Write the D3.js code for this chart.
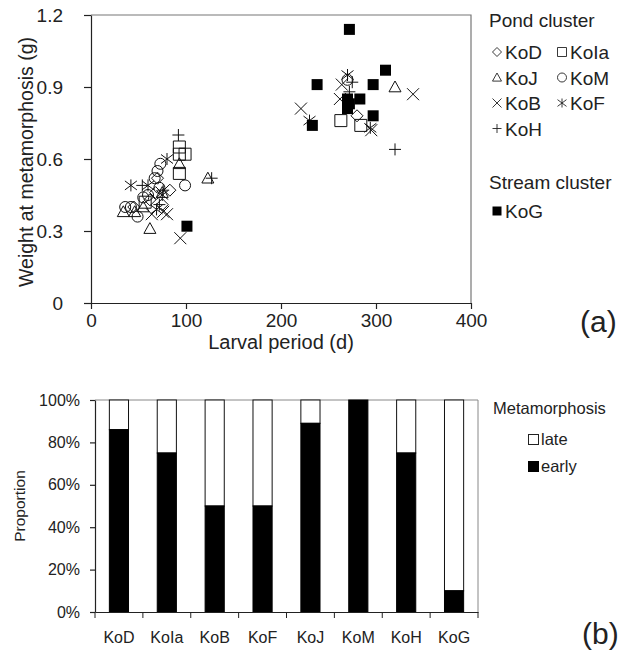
<!DOCTYPE html>
<html>
<head>
<meta charset="utf-8">
<script src="https://cdn.jsdelivr.net/npm/d3@7"></script>
<style>
  body { margin: 0; background: #fff; }
  svg { font-family: "Liberation Sans", Arial, sans-serif; }
</style>
</head>
<body>
<script>
// ---- scatter data: [larval period (d), weight (g)] per site ----
const koD  = [[83,0.47],[62,0.43],[75,0.41],[45,0.40],[70,0.52],[280,0.78],[68,0.46]];
const koIa = [[93,0.65],[93,0.62],[99,0.62],[93,0.54],[263,0.76],[284,0.74],[57,0.42]];
const koJ  = [[93,0.58],[123,0.52],[34,0.38],[62,0.31],[46,0.38],[320,0.90],[55,0.40],[75,0.46]];
const koM  = [[99,0.49],[73,0.58],[70,0.55],[67,0.52],[36,0.40],[42,0.40],[49,0.36],[55,0.44],[60,0.45],[72,0.48],[270,0.93]];
const koB  = [[94,0.27],[76,0.38],[64,0.37],[221,0.81],[264,0.91],[262,0.85],[295,0.72],[339,0.87],[80,0.37]];
const koF  = [[42,0.49],[69,0.39],[80,0.60],[60,0.49],[230,0.76],[270,0.95],[294,0.73],[75,0.45]];
const koH  = [[92,0.70],[54,0.49],[127,0.52],[76,0.47],[275,0.92],[272,0.88],[320,0.64],[72,0.41]];
const koG  = [[272,1.14],[238,0.91],[297,0.91],[310,0.97],[233,0.74],[270,0.85],[283,0.85],[270,0.81],[297,0.78],[272,0.83],[101,0.32]];

const pondSites  = ['KoD','KoIa','KoJ','KoM','KoB','KoF','KoH'];
const pondShapes = ['diamond','square','triangle','circle','cross','asterisk','plus'];
const pondData   = [koD, koIa, koJ, koM, koB, koF, koH];

const xTicks = [0, 100, 200, 300, 400];
const yTicks = [0, 0.3, 0.6, 0.9, 1.2];

// ---- bar data ----
const barSites   = ['KoD','KoIa','KoB','KoF','KoJ','KoM','KoH','KoG'];
const earlyShare = [0.86, 0.75, 0.50, 0.50, 0.89, 1.00, 0.75, 0.10];
const pctTicks   = [0, 0.2, 0.4, 0.6, 0.8, 1];

const svg = d3.select('body').append('svg')
  .attr('width', 629).attr('height', 651);

// symbol path, centred on 0,0, s = half size
function symbol(type, s) {
  switch (type) {
    case 'diamond':  return `M0,${-s}L${s},0L0,${s}L${-s},0Z`;
    case 'square':   return `M${-s},${-s}h${2*s}v${2*s}h${-2*s}Z`;
    case 'triangle': return `M0,${-s}L${s},${s*0.8}L${-s},${s*0.8}Z`;
    case 'circle':   return `M${s},0A${s},${s} 0 1,1 ${-s},0A${s},${s} 0 1,1 ${s},0Z`;
    case 'cross':    return `M${-s},${-s}L${s},${s}M${s},${-s}L${-s},${s}`;
    case 'asterisk': return `M${-s},${-s*0.75}L${s},${s*0.75}M${s},${-s*0.75}L${-s},${s*0.75}M0,${-s}V${s}`;
    case 'plus':     return `M${-s},0H${s}M0,${-s}V${s}`;
  }
}

// ================= (a) scatter =================
const x = d3.scaleLinear().domain([0, 400]).range([91, 471]);
const y = d3.scaleLinear().domain([0, 1.2]).range([303, 15]);

// frame
svg.append('path')
  .attr('d', `M${x(0)},${y(1.2)}H${x(400)}V${y(0)}`)
  .attr('fill', 'none').attr('stroke', '#777').attr('stroke-width', 1.2);

const gx = svg.append('g').attr('transform', `translate(0,${y(0)})`)
  .call(d3.axisBottom(x).tickValues(xTicks).tickSize(6).tickPadding(5).tickSizeOuter(0));
const gy = svg.append('g').attr('transform', `translate(${x(0)},0)`)
  .call(d3.axisLeft(y).tickValues(yTicks).tickFormat(d => d === 0 ? '0' : d3.format('.1f')(d))
    .tickSize(7).tickPadding(21).tickSizeOuter(0));
[gx, gy].forEach(g => {
  g.selectAll('path, line').attr('stroke', '#222').attr('stroke-width', 1.2);
  g.selectAll('text').attr('font-size', 19).attr('fill', '#222').attr('font-family', null);
});

const pts = svg.append('g');
pondData.forEach((arr, i) => {
  pts.selectAll(null).data(arr).enter().append('path')
    .attr('transform', d => `translate(${x(d[0])},${y(d[1])})`)
    .attr('d', symbol(pondShapes[i], pondShapes[i] === 'circle' ? 5.5 : 6))
    .attr('fill', 'none').attr('stroke', '#111').attr('stroke-width', 1);
});
pts.selectAll(null).data(koG).enter().append('path')
  .attr('transform', d => `translate(${x(d[0])},${y(d[1])})`)
  .attr('d', symbol('square', 5.5))
  .attr('fill', '#000');

svg.append('text').attr('x', 281).attr('y', 349).attr('text-anchor', 'middle')
  .attr('font-size', 20).attr('fill', '#222').text('Larval period (d)');
svg.append('text').attr('transform', 'translate(33,162) rotate(-90)').attr('text-anchor', 'middle')
  .attr('font-size', 19.5).attr('fill', '#222').text('Weight at metamorphosis (g)');

// legend (a)
const lg = svg.append('g').attr('font-size', 19).attr('fill', '#222');
lg.append('text').attr('x', 489).attr('y', 27).text('Pond cluster');
pondSites.forEach((s, i) => {
  const cx = 497 + (i % 2) * 65, cy = 52 + Math.floor(i / 2) * 25.5;
  lg.append('path').attr('transform', `translate(${cx},${cy})`)
    .attr('d', symbol(pondShapes[i], 4.5)).attr('fill', 'none').attr('stroke', '#222').attr('stroke-width', 0.9);
  lg.append('text').attr('x', cx + 8).attr('y', cy + 7).text(s);
});
lg.append('text').attr('x', 489).attr('y', 189).text('Stream cluster');
lg.append('path').attr('transform', 'translate(497,211)').attr('d', symbol('square', 4.5)).attr('fill', '#000');
lg.append('text').attr('x', 505).attr('y', 218).text('KoG');

svg.append('text').attr('x', 580).attr('y', 332).attr('font-size', 30).attr('fill', '#222').text('(a)');

// ================= (b) bars =================
const bx = d3.scaleBand().domain(barSites).range([95, 478]).paddingInner(0.6).paddingOuter(0.3);
const by = d3.scaleLinear().domain([0, 1]).range([612, 400]);

svg.append('path')
  .attr('d', `M${bx.range()[0]},${by(1)}H${bx.range()[1]}V${by(0)}`)
  .attr('fill', 'none').attr('stroke', '#888').attr('stroke-width', 1);

const bars = svg.append('g');
barSites.forEach((s, i) => {
  bars.append('rect').attr('x', bx(s)).attr('width', bx.bandwidth())
    .attr('y', by(1)).attr('height', by(earlyShare[i]) - by(1))
    .attr('fill', '#fff').attr('stroke', '#111').attr('stroke-width', 1);
  bars.append('rect').attr('x', bx(s)).attr('width', bx.bandwidth())
    .attr('y', by(earlyShare[i])).attr('height', by(0) - by(earlyShare[i]))
    .attr('fill', '#000').attr('stroke', '#000').attr('stroke-width', 1);
});

const gbx = svg.append('g').attr('transform', `translate(0,${by(0)})`)
  .call(d3.axisBottom(bx).tickSize(0).tickPadding(20).tickSizeOuter(0));
// ticks between categories
const step = bx.step();
svg.append('g').selectAll('line').data(barSites.concat(['end'])).enter().append('line')
  .attr('x1', (d, i) => bx.range()[0] + i * step).attr('x2', (d, i) => bx.range()[0] + i * step)
  .attr('y1', by(0)).attr('y2', by(0) + 6)
  .attr('stroke', '#222').attr('stroke-width', 1);
const gby = svg.append('g').attr('transform', `translate(${bx.range()[0]},0)`)
  .call(d3.axisLeft(by).tickValues(pctTicks).tickFormat(d3.format('.0%'))
    .tickSize(5).tickPadding(10).tickSizeOuter(0));
[gbx, gby].forEach(g => {
  g.selectAll('path, line').attr('stroke', '#222').attr('stroke-width', 1.2);
  g.selectAll('text').attr('font-size', 16).attr('fill', '#222').attr('font-family', null);
});

svg.append('text').attr('transform', 'translate(25,506) rotate(-90)').attr('text-anchor', 'middle')
  .attr('font-size', 15.5).attr('fill', '#222').text('Proportion');

// legend (b)
const lb = svg.append('g').attr('font-size', 16.5).attr('fill', '#222');
lb.append('text').attr('x', 493).attr('y', 414).text('Metamorphosis');
lb.append('rect').attr('x', 528.5).attr('y', 434.5).attr('width', 10).attr('height', 10)
  .attr('fill', '#fff').attr('stroke', '#222');
lb.append('text').attr('x', 541).attr('y', 445).text('late');
lb.append('rect').attr('x', 528.5).attr('y', 461.5).attr('width', 10).attr('height', 10)
  .attr('fill', '#000').attr('stroke', '#000');
lb.append('text').attr('x', 541).attr('y', 472).text('early');

svg.append('text').attr('x', 582).attr('y', 644).attr('font-size', 30).attr('fill', '#222').text('(b)');
</script>
</body>
</html>
